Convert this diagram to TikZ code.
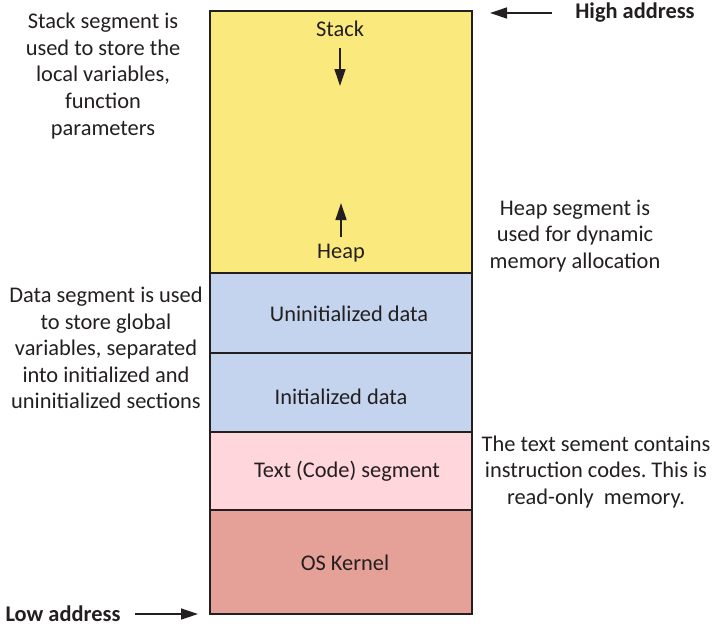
\documentclass[tikz,border=0pt]{standalone}
\usepackage{fontspec}
\setmainfont{Carlito}
\usepackage{tikz}
\usetikzlibrary{arrows.meta}
\definecolor{stackyellow}{RGB}{250,233,125}
\definecolor{datablue}{RGB}{197,212,238}
\definecolor{textpink}{RGB}{255,214,220}
\definecolor{kernelred}{RGB}{229,160,152}
\definecolor{inkgray}{RGB}{35,31,32}
\frenchspacing

\begin{document}
\begin{tikzpicture}[x=0.5pt,y=-0.5pt,font=\fontsize{11.2}{13.3}\selectfont,text=inkgray,
  seg/.style={draw=inkgray,line width=0.6pt},
  arr/.style={draw=inkgray,line width=0.65pt,-{Triangle[length=8.5pt,width=5.5pt]}},
  note/.style={align=center},
  addr/.style={font=\fontsize{11.2}{13.3}\selectfont\bfseries}]
\useasboundingbox (0,0) rectangle (712,627);

% memory blocks, top to bottom
\foreach \t/\b/\col in {11/273/stackyellow,273/353/datablue,353/432/datablue,432/510/textpink,510/614/kernelred}
{ \filldraw [seg,fill=\col] (210,\t) rectangle (472,\b);
}

\node (stack) at (340,29) {Stack};
\node (heap) at (341,253) {Heap};
\coordinate (stackend) at (340,86);
\coordinate (heapend) at (341,203);
\draw [arr,shorten <=2pt] (stack.south)--(stackend);
\draw [arr] (heap.north)--(heapend);

\node (uninit) at (349,314) {Uninitialized data};
\node (init) at (341,397) {Initialized data};
\node (code) at (347,471) {Text (Code) segment};
\node (kernel) at (345,563) {OS Kernel};

% notes
\node [note] (stacknote) at (103,76) {Stack segment is\\used to store the\\local variables,\\function\\parameters};
\node [note] (heapnote) at (575,236) {Heap segment is\\used for dynamic\\memory allocation};
\node [note] (datanote) at (106,348) {Data segment is used\\to store global\\variables, separated\\into initialized and\\uninitialized sections};
\node [note] (textnote) at (596,472) {The text sement contains\\instruction codes. This is\\read-only\ \ memory.};

% addresses
\node [addr] (high) at (635,13) {High address};
\coordinate (hightail) at (552,13);
\coordinate (hightip) at (490,13);
\draw [arr] (hightail)--(hightip);
\node [addr] (low) at (63,614) {Low address};
\coordinate (lowtail) at (135,614);
\coordinate (lowtip) at (198,614);
\draw [arr] (lowtail)--(lowtip);
\end{tikzpicture}
\end{document}
